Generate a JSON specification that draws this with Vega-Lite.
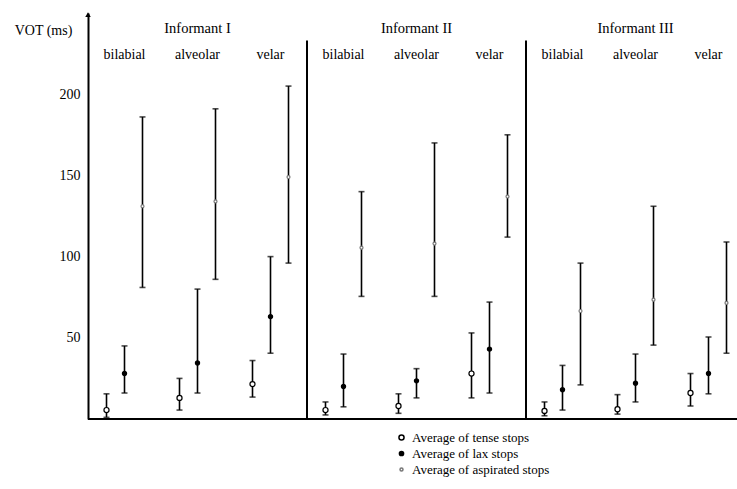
{
  "$schema": "https://vega.github.io/schema/vega-lite/v6.json",
  "autosize": {"type": "none"},
  "width": 649,
  "height": 406,
  "padding": {"left": 88, "top": 13, "right": 0, "bottom": 70},
  "background": "white",
  "config": {
    "view": {"stroke": null},
    "font": "'Liberation Serif', 'DejaVu Serif', serif",
    "axis": {"labelFont": "'Liberation Serif', 'DejaVu Serif', serif", "titleFont": "'Liberation Serif', 'DejaVu Serif', serif"},
    "legend": {"labelFont": "'Liberation Serif', 'DejaVu Serif', serif", "labelLimit": 400},
    "text": {"font": "'Liberation Serif', 'DejaVu Serif', serif"}
  },
  "data": {
    "values": [
      {"informant": "Informant I", "place": "bilabial", "group": "I-bilabial", "stop": "tense", "lo": 1, "mean": 5.5, "hi": 15.5},
      {"informant": "Informant I", "place": "bilabial", "group": "I-bilabial", "stop": "lax", "lo": 16, "mean": 28, "hi": 45},
      {"informant": "Informant I", "place": "bilabial", "group": "I-bilabial", "stop": "aspirated", "lo": 81, "mean": 131, "hi": 186},
      {"informant": "Informant I", "place": "alveolar", "group": "I-alveolar", "stop": "tense", "lo": 5.5, "mean": 13, "hi": 25},
      {"informant": "Informant I", "place": "alveolar", "group": "I-alveolar", "stop": "lax", "lo": 16, "mean": 34.5, "hi": 80},
      {"informant": "Informant I", "place": "alveolar", "group": "I-alveolar", "stop": "aspirated", "lo": 86, "mean": 134, "hi": 191},
      {"informant": "Informant I", "place": "velar", "group": "I-velar", "stop": "tense", "lo": 13.5, "mean": 21.5, "hi": 36},
      {"informant": "Informant I", "place": "velar", "group": "I-velar", "stop": "lax", "lo": 40.5, "mean": 63, "hi": 100},
      {"informant": "Informant I", "place": "velar", "group": "I-velar", "stop": "aspirated", "lo": 96, "mean": 149, "hi": 205},
      {"informant": "Informant II", "place": "bilabial", "group": "II-bilabial", "stop": "tense", "lo": 2.5, "mean": 5.5, "hi": 10.5},
      {"informant": "Informant II", "place": "bilabial", "group": "II-bilabial", "stop": "lax", "lo": 7.5, "mean": 20, "hi": 40},
      {"informant": "Informant II", "place": "bilabial", "group": "II-bilabial", "stop": "aspirated", "lo": 75.5, "mean": 105.5, "hi": 140},
      {"informant": "Informant II", "place": "alveolar", "group": "II-alveolar", "stop": "tense", "lo": 3.5, "mean": 8, "hi": 15.5},
      {"informant": "Informant II", "place": "alveolar", "group": "II-alveolar", "stop": "lax", "lo": 13, "mean": 23.5, "hi": 31},
      {"informant": "Informant II", "place": "alveolar", "group": "II-alveolar", "stop": "aspirated", "lo": 75.5, "mean": 108, "hi": 170},
      {"informant": "Informant II", "place": "velar", "group": "II-velar", "stop": "tense", "lo": 13, "mean": 28, "hi": 53},
      {"informant": "Informant II", "place": "velar", "group": "II-velar", "stop": "lax", "lo": 16, "mean": 43, "hi": 72},
      {"informant": "Informant II", "place": "velar", "group": "II-velar", "stop": "aspirated", "lo": 112, "mean": 137, "hi": 175},
      {"informant": "Informant III", "place": "bilabial", "group": "III-bilabial", "stop": "tense", "lo": 2, "mean": 5, "hi": 10.5},
      {"informant": "Informant III", "place": "bilabial", "group": "III-bilabial", "stop": "lax", "lo": 5.5, "mean": 18, "hi": 33},
      {"informant": "Informant III", "place": "bilabial", "group": "III-bilabial", "stop": "aspirated", "lo": 21, "mean": 66.5, "hi": 96},
      {"informant": "Informant III", "place": "alveolar", "group": "III-alveolar", "stop": "tense", "lo": 3, "mean": 6, "hi": 15},
      {"informant": "Informant III", "place": "alveolar", "group": "III-alveolar", "stop": "lax", "lo": 10.5, "mean": 22, "hi": 40},
      {"informant": "Informant III", "place": "alveolar", "group": "III-alveolar", "stop": "aspirated", "lo": 45.5, "mean": 73.5, "hi": 131},
      {"informant": "Informant III", "place": "velar", "group": "III-velar", "stop": "tense", "lo": 8, "mean": 16, "hi": 28},
      {"informant": "Informant III", "place": "velar", "group": "III-velar", "stop": "lax", "lo": 15.5, "mean": 28, "hi": 50.5},
      {"informant": "Informant III", "place": "velar", "group": "III-velar", "stop": "aspirated", "lo": 40.5, "mean": 71.5, "hi": 109}
    ]
  },
  "layer": [
    {
      "mark": {"type": "rule", "color": "black", "strokeWidth": 1.6},
      "encoding": {
        "x": {"field": "group", "type": "nominal",
          "scale": {"domain": ["I-bilabial","I-alveolar","I-velar","II-bilabial","II-alveolar","II-velar","III-bilabial","III-alveolar","III-velar"], "range": [0, 657], "paddingInner": 0, "paddingOuter": 0},
          "axis": null},
        "xOffset": {"field": "stop", "type": "nominal", "scale": {"domain": ["tense","lax","aspirated"], "paddingInner": 0, "paddingOuter": 0.528}},
        "y": {"field": "lo", "type": "quantitative",
          "scale": {"domain": [0, 250], "nice": false},
          "axis": {"title": "VOT (ms)", "titleAngle": 0, "titleX": -45, "titleY": 17, "titleAlign": "center", "titleBaseline": "middle", "titleFontSize": 14, "titleFontWeight": "normal", "titleColor": "black",
            "values": [50, 100, 150, 200], "ticks": false, "tickSize": 0, "labelPadding": 8, "labelFontSize": 14, "labelColor": "black", "grid": false, "domainColor": "black", "domainWidth": 2}},
        "y2": {"field": "hi"}
      }
    },
    {
      "mark": {"type": "rule", "color": "black", "strokeWidth": 2},
      "encoding": {"y": {"datum": 0}}
    },
    {
      "mark": {"type": "tick", "color": "black", "orient": "horizontal", "size": 6, "thickness": 1.6},
      "encoding": {
        "x": {"field": "group", "type": "nominal", "axis": null},
        "xOffset": {"field": "stop", "type": "nominal"},
        "y": {"field": "lo", "type": "quantitative"}
      }
    },
    {
      "mark": {"type": "tick", "color": "black", "orient": "horizontal", "size": 6, "thickness": 1.6},
      "encoding": {
        "x": {"field": "group", "type": "nominal", "axis": null},
        "xOffset": {"field": "stop", "type": "nominal"},
        "y": {"field": "hi", "type": "quantitative"}
      }
    },
    {
      "mark": {"type": "point", "shape": "circle", "filled": false, "strokeWidth": 1.2, "opacity": 1},
      "encoding": {
        "x": {"field": "group", "type": "nominal", "axis": null},
        "xOffset": {"field": "stop", "type": "nominal"},
        "y": {"field": "mean", "type": "quantitative"},
        "fill": {"field": "stop", "type": "nominal", "scale": {"domain": ["tense","lax","aspirated"], "range": ["white","black","white"]},
          "legend": {"title": null, "orient": "none", "legendX": 307, "legendY": 418, "labelExpr": "'Average of ' + datum.label + ' stops'", "labelFontSize": 13, "labelColor": "black", "labelLimit": 400, "rowPadding": 2}},
        "stroke": {"field": "stop", "type": "nominal", "scale": {"domain": ["tense","lax","aspirated"], "range": ["black","black","#777777"]},
          "legend": {"title": null, "orient": "none", "legendX": 307, "legendY": 418, "labelExpr": "'Average of ' + datum.label + ' stops'", "labelFontSize": 13, "labelColor": "black", "labelLimit": 400, "rowPadding": 2}},
        "size": {"field": "stop", "type": "nominal", "scale": {"domain": ["tense","lax","aspirated"], "range": [26, 9, 14]},
          "legend": {"title": null, "orient": "none", "legendX": 307, "legendY": 418, "labelExpr": "'Average of ' + datum.label + ' stops'", "labelFontSize": 13, "labelColor": "black", "labelLimit": 400, "rowPadding": 2}}
      }
    },
    {
      "transform": [{"filter": "datum.stop == 'lax'"}],
      "mark": {"type": "text", "fontSize": 14, "color": "black", "baseline": "middle"},
      "encoding": {
        "x": {"field": "group", "type": "nominal", "axis": null},
        "xOffset": {"field": "stop", "type": "nominal"},
        "y": {"datum": 224},
        "text": {"field": "place"}
      }
    },
    {
      "transform": [{"filter": "datum.stop == 'lax' && datum.place == 'alveolar'"}],
      "mark": {"type": "text", "fontSize": 14.5, "color": "black", "baseline": "middle"},
      "encoding": {
        "x": {"field": "group", "type": "nominal", "axis": null},
        "xOffset": {"field": "stop", "type": "nominal"},
        "y": {"datum": 240},
        "text": {"field": "informant"}
      }
    },
    {
      "transform": [{"filter": "datum.stop == 'aspirated' && datum.place == 'velar' && datum.informant != 'Informant III'"}],
      "mark": {"type": "rule", "color": "black", "strokeWidth": 2},
      "encoding": {
        "x": {"field": "group", "type": "nominal", "bandPosition": 1, "axis": null},
        "y": {"datum": 233},
        "y2": {"datum": 0}
      }
    },
    {
      "transform": [{"filter": "datum.group == 'I-bilabial' && datum.stop == 'tense'"}],
      "mark": {"type": "point", "shape": "triangle-up", "filled": true, "color": "black", "size": 30, "opacity": 1},
      "encoding": {
        "x": {"field": "group", "type": "nominal", "bandPosition": 0, "axis": null},
        "y": {"datum": 249}
      }
    }
  ]
}
